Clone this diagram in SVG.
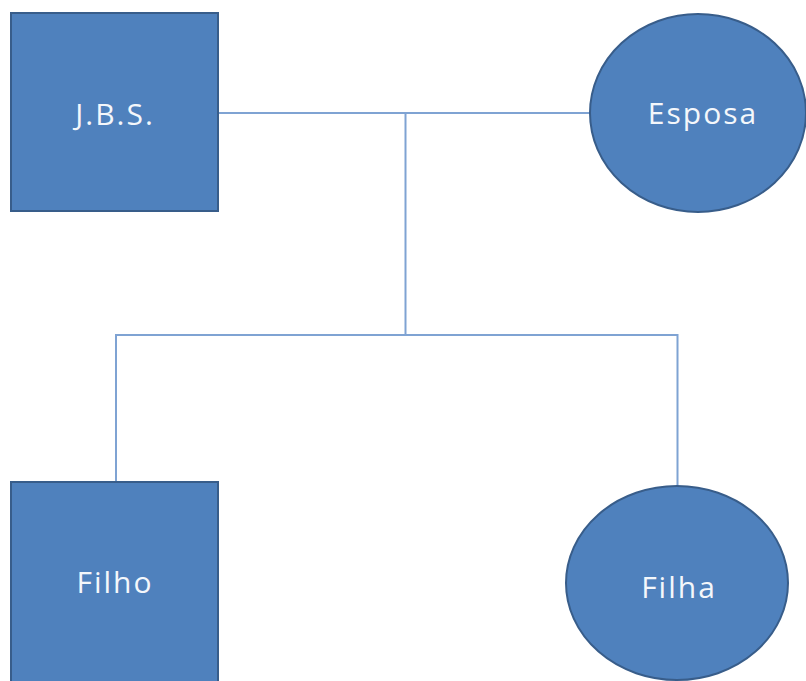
<svg xmlns="http://www.w3.org/2000/svg" width="806" height="681" viewBox="0 0 806 681">
  <style>
    .shape { fill: #4F81BD; stroke: #385D8A; stroke-width: 2; }
    .label { fill: #F4F7FB; font-family: "Open Sans", "Liberation Sans", sans-serif; font-size: 30px; letter-spacing: 2px; text-anchor: middle; }
    .link { fill: none; stroke: #7FA3D3; stroke-width: 2; }
  </style>
  <rect width="806" height="681" fill="#FFFFFF"/>
  <g id="connectors">
    <line class="link" x1="218" y1="113" x2="590" y2="113"/>
    <line class="link" x1="405.5" y1="113" x2="405.5" y2="335"/>
    <polyline class="link" points="116,481 116,335 677.5,335 677.5,486"/>
  </g>
  <g id="jbs">
    <rect class="shape" x="11" y="13" width="207" height="198"/>
    <text class="label" x="115" y="125">J.B.S.</text>
  </g>
  <g id="esposa">
    <ellipse class="shape" cx="698" cy="113" rx="108" ry="99"/>
    <text class="label" x="703" y="124">Esposa</text>
  </g>
  <g id="filho">
    <rect class="shape" x="11" y="482" width="207" height="204"/>
    <text class="label" x="115" y="593">Filho</text>
  </g>
  <g id="filha">
    <ellipse class="shape" cx="677" cy="583" rx="111" ry="97"/>
    <text class="label" x="679" y="598">Filha</text>
  </g>
</svg>
